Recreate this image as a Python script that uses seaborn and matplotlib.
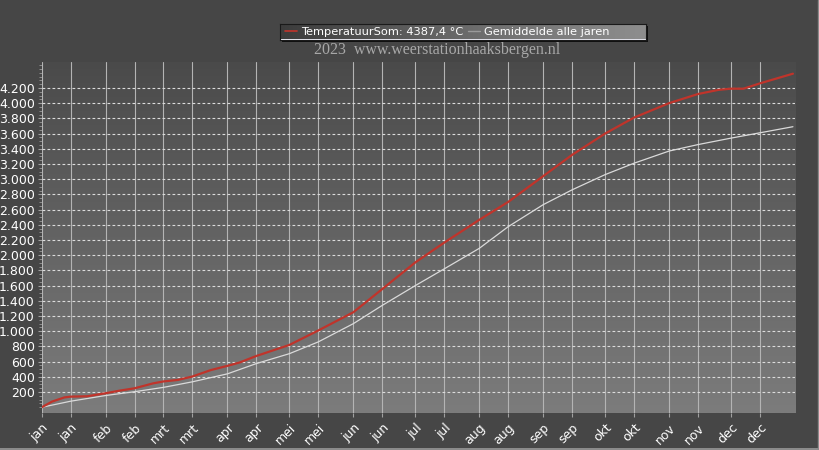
import numpy as np
import pandas as pd
import matplotlib
matplotlib.use("Agg")
import matplotlib.pyplot as plt
from matplotlib.colors import LinearSegmentedColormap
from matplotlib.lines import Line2D
import seaborn as sns

# =========================================
# DATA
# =========================================

temp_dates = [
    "2023-01-01", "2023-01-06", "2023-01-12", "2023-01-15", "2023-01-23",
    "2023-02-01", "2023-02-08", "2023-02-15", "2023-02-24", "2023-03-01",
    "2023-03-08", "2023-03-15", "2023-03-24", "2023-04-01", "2023-04-07",
    "2023-04-15", "2023-05-01", "2023-05-15", "2023-06-01", "2023-06-15",
    "2023-07-01", "2023-07-15", "2023-08-01", "2023-08-15", "2023-09-01",
    "2023-09-15", "2023-10-01", "2023-10-15", "2023-11-01", "2023-11-15",
    "2023-11-25", "2023-12-01", "2023-12-07", "2023-12-15", "2023-12-31",
]
temp_sum = [
    0, 75, 130, 140, 145,
    185, 220, 250, 315, 340,
    360, 405, 490, 545, 590,
    675, 820, 1010, 1250, 1555,
    1905, 2165, 2465, 2700, 3040,
    3320, 3600, 3810, 4000, 4120,
    4175, 4190, 4190, 4260, 4387.4,
]

avg_dates = [
    "2023-01-01", "2023-01-15", "2023-02-01", "2023-02-15", "2023-03-01",
    "2023-03-15", "2023-04-01", "2023-04-15", "2023-05-01", "2023-05-15",
    "2023-06-01", "2023-06-15", "2023-07-01", "2023-07-15", "2023-08-01",
    "2023-08-15", "2023-09-01", "2023-09-15", "2023-10-01", "2023-10-15",
    "2023-11-01", "2023-11-15", "2023-12-01", "2023-12-15", "2023-12-31",
]
avg_sum = [
    0, 80, 155, 205, 262,
    335, 440, 575, 705, 860,
    1100, 1340, 1600, 1820, 2090,
    2375, 2665, 2860, 3060, 3210,
    3370, 3455, 3540, 3610, 3690,
]

month_names = ["jan", "feb", "mrt", "apr", "mei", "jun",
               "jul", "aug", "sep", "okt", "nov", "dec"]
y_ticks = list(range(200, 4201, 200))

df_temp = pd.DataFrame({"datum": pd.to_datetime(temp_dates), "som": temp_sum})
df_avg = pd.DataFrame({"datum": pd.to_datetime(avg_dates), "som": avg_sum})

# =========================================
# STYLE
# =========================================

sns.set_style("dark")
plt.rcParams["font.family"] = ["DejaVu Sans"]

fig_bg = "#464646"
red = "#c0342b"
grey = "#dadada"

fig = plt.figure(figsize=(8.2, 4.5), dpi=100, facecolor=fig_bg)
ax = fig.add_axes([41.7 / 820, 37 / 450, (795 - 41.7) / 820, (413 - 61.7) / 450])

# gradient plot background
grad = LinearSegmentedColormap.from_list("bg", ["#4a4a4a", "#7c7c7c"])
ax.imshow(np.linspace(0, 1, 256).reshape(-1, 1), cmap=grad, aspect="auto",
          extent=[0, 1, 0, 1], transform=ax.transAxes, zorder=0)

# =========================================
# LINES
# =========================================

sns.lineplot(data=df_avg, x="datum", y="som", color=grey, linewidth=0.9,
             ax=ax, zorder=3)
sns.lineplot(data=df_temp, x="datum", y="som", color=red, linewidth=1.6,
             ax=ax, zorder=4)

# =========================================
# AXES
# =========================================

ax.set_xlim(pd.Timestamp("2023-01-01"), pd.Timestamp("2024-01-01"))
ax.set_ylim(-75, 4545)

x_ticks = []
x_labels = []
for m in range(1, 13):
    for d in (1, 15):
        x_ticks.append(pd.Timestamp(2023, m, d))
        x_labels.append(month_names[m - 1])
ax.set_xticks(x_ticks)
ax.set_xticklabels(x_labels, rotation=45, ha="right", va="top",
                   rotation_mode="anchor", color="white", fontsize=9)

ax.set_yticks(y_ticks)
ax.set_yticklabels([f"{v:,}".replace(",", ".") for v in y_ticks],
                   color="white", fontsize=9)
ax.set_yticks(list(range(0, 4550, 50)), minor=True)

ax.tick_params(axis="x", which="major", length=3, color="#a0a0a0", pad=3,
               bottom=True)
ax.tick_params(axis="y", which="major", length=3, color="#a0a0a0", pad=2,
               left=True)
ax.tick_params(axis="y", which="minor", length=2, color="#9a9a9a", left=True)

ax.grid(False)
for t in x_ticks:
    ax.axvline(t, color="#b4b4b4", linewidth=0.8, zorder=1)
for v in y_ticks:
    ax.axhline(v, color="#dcdcdc", linewidth=0.8, linestyle=(0, (2.5, 2)),
               zorder=1)

ax.set_xlabel("")
ax.set_ylabel("")
for s in ax.spines.values():
    s.set_visible(False)

# =========================================
# TITLE + LEGEND
# =========================================

fig.text(437 / 820, 1 - 50 / 450, "2023  www.weerstationhaaksbergen.nl",
         ha="center", va="center", fontsize=11.5, color="#a8a8a8",
         family="Liberation Serif")

# shadow and gradient box behind legend
shadow = fig.add_axes([282 / 820, 1 - 41.5 / 450, 366 / 820, 15.5 / 450])
shadow.set_facecolor("#111111")
shadow.set_xticks([])
shadow.set_yticks([])
for s in shadow.spines.values():
    s.set_visible(False)

lbox = fig.add_axes([280 / 820, 1 - 39.5 / 450, 366 / 820, 15.5 / 450])
lgrad = LinearSegmentedColormap.from_list("lg", ["#3c3c3c", "#6a6a6a", "#8e8e8e"])
lbox.imshow(np.linspace(0, 1, 256).reshape(1, -1), cmap=lgrad, aspect="auto",
            extent=[0, 1, 0, 1])
lbox.set_xlim(0, 1)
lbox.set_ylim(0, 1)
lbox.set_xticks([])
lbox.set_yticks([])
for s in lbox.spines.values():
    s.set_color("#1a1a1a")
    s.set_linewidth(0.8)

handles = [
    Line2D([], [], color=red, linewidth=1.2),
    Line2D([], [], color="#9a9a9a", linewidth=1.0),
]
labels = [
    "TemperatuurSom: " + f"{temp_sum[-1]:.1f}".replace(".", ",") + " °C",
    "Gemiddelde alle jaren",
]
lbox.legend(handles, labels, loc="center left", bbox_to_anchor=(0.015, 0.5),
            ncol=2, frameon=False, fontsize=8.2, labelcolor="white",
            handlelength=1.0, handletextpad=0.35, columnspacing=0.45,
            borderpad=0, borderaxespad=0)

# light outer frame at bottom and right edge
fig.add_artist(Line2D([0, 1], [0.002, 0.002], transform=fig.transFigure,
                      color="#9a9a9a", linewidth=1.2))
fig.add_artist(Line2D([0.998, 0.998], [0, 1], transform=fig.transFigure,
                      color="#8a8a8a", linewidth=1.0))

plt.savefig("out.png", dpi=100, facecolor=fig_bg)
